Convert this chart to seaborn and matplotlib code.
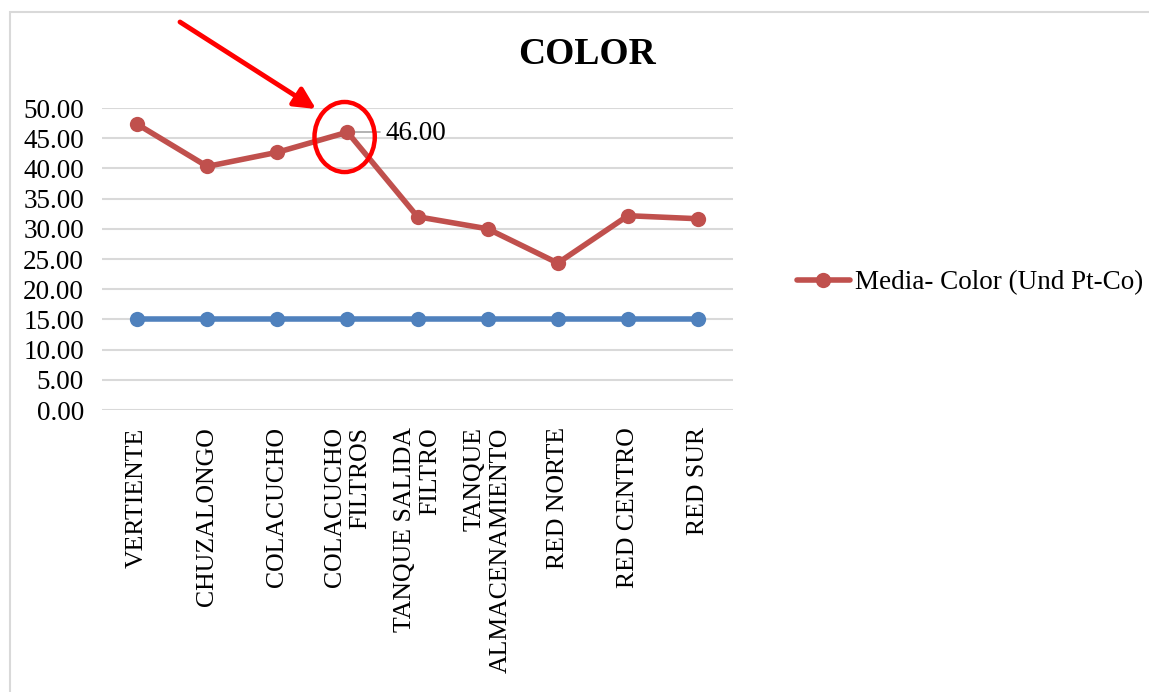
import matplotlib
matplotlib.use("Agg")
import matplotlib.pyplot as plt
from matplotlib.patches import Ellipse, Rectangle
import seaborn as sns
import pandas as pd

# Sampling points along the water system
categories = [
    "VERTIENTE",
    "CHUZALONGO",
    "COLACUCHO",
    "COLACUCHO\nFILTROS",
    "TANQUE SALIDA\nFILTRO",
    "TANQUE\nALMACENAMIENTO",
    "RED NORTE",
    "RED CENTRO",
    "RED SUR",
]
# Mean colour per site (Pt-Co units) and the permitted limit
media_color = [47.33, 40.33, 42.67, 46.00, 32.00, 30.00, 24.33, 32.17, 31.67]
limite = [15, 15, 15, 15, 15, 15, 15, 15, 15]
series_name = "Media- Color (Und Pt-Co)"
highlight_index = 3

sns.set_style("white")
plt.rcParams["font.family"] = ["Liberation Serif", "DejaVu Serif"]
plt.rcParams["text.color"] = "black"
plt.rcParams["xtick.color"] = "black"
plt.rcParams["ytick.color"] = "black"

RED = "#C0504D"
BLUE = "#4F81BD"
GRID = "#D9D9D9"
FS = 19.5
FSX = 18.5

fig = plt.figure(figsize=(11.49, 6.92), dpi=100)
ax = fig.add_axes([0.0888, 0.4075, 0.5492, 0.4364])

df = pd.DataFrame({"sitio": categories, "media": media_color, "limite": limite})

sns.lineplot(data=df, x="sitio", y="limite", ax=ax, color=BLUE, lw=4.0,
             marker="o", markersize=11, markeredgewidth=0, sort=False,
             legend=False)
sns.lineplot(data=df, x="sitio", y="media", ax=ax, color=RED, lw=4.0,
             marker="o", markersize=11, markeredgewidth=0, sort=False,
             label=series_name)

ax.set_xlim(-0.5, len(categories) - 0.5)
ax.set_ylim(0, 50)
ax.set_yticks(range(0, 51, 5))
ax.set_yticklabels([f"{v:.2f}" for v in range(0, 51, 5)], fontsize=FS)
ax.set_xticks(range(len(categories)))
ax.set_xticklabels(categories, rotation=90, fontsize=FSX, va="top",
                   ha="center", multialignment="right")
ax.tick_params(axis="y", length=0, pad=13)
ax.tick_params(axis="x", length=0, pad=12.5)
ax.set_xlabel("")
ax.set_ylabel("")
ax.yaxis.grid(True, color=GRID, lw=1.5)
ax.set_axisbelow(True)
for s in ax.spines.values():
    s.set_visible(False)

# Data label with leader line for the highlighted point
hv = media_color[highlight_index]
ax.plot([highlight_index, highlight_index + 0.47], [hv, hv], color="#A6A6A6",
        lw=1.2, zorder=1)
ax.text(highlight_index + 0.55, hv - 0.3, f"{hv:.2f}", fontsize=FS,
        va="center", ha="left")

# Red ring around the highlighted point
ax.add_patch(Ellipse((highlight_index - 0.04, hv - 0.8), 0.86, 11.6,
                     fill=False, edgecolor="#FF0000", lw=3.2, zorder=5,
                     clip_on=False))

# Pointer arrow
ax.annotate("", xy=(316, 583), xytext=(180, 670), xycoords="figure pixels",
            textcoords="figure pixels",
            arrowprops=dict(arrowstyle="-|>", color="#FF0000", lw=3.5,
                            mutation_scale=32, shrinkA=0, shrinkB=0))

handles, labels = ax.get_legend_handles_labels()
fig.legend(handles=handles, labels=labels,
           loc="center left", bbox_to_anchor=(797 / 1149, 1 - 283 / 692),
           frameon=False, fontsize=FS, handlelength=1.95,
           handletextpad=0.2, borderpad=0, borderaxespad=0)
if ax.get_legend() is not None:
    ax.get_legend().remove()

fig.text(587 / 1149, 1 - 55 / 692, "COLOR", fontsize=27, fontweight="bold",
         ha="center", va="center")

# Chart area border
fig.patches.append(Rectangle((10 / 1149, -0.1), 1.2, 1 - 12 / 692 + 0.1,
                             transform=fig.transFigure, fill=False,
                             edgecolor=GRID, lw=1.5))

fig.savefig("out.png", dpi=100, facecolor="white")
